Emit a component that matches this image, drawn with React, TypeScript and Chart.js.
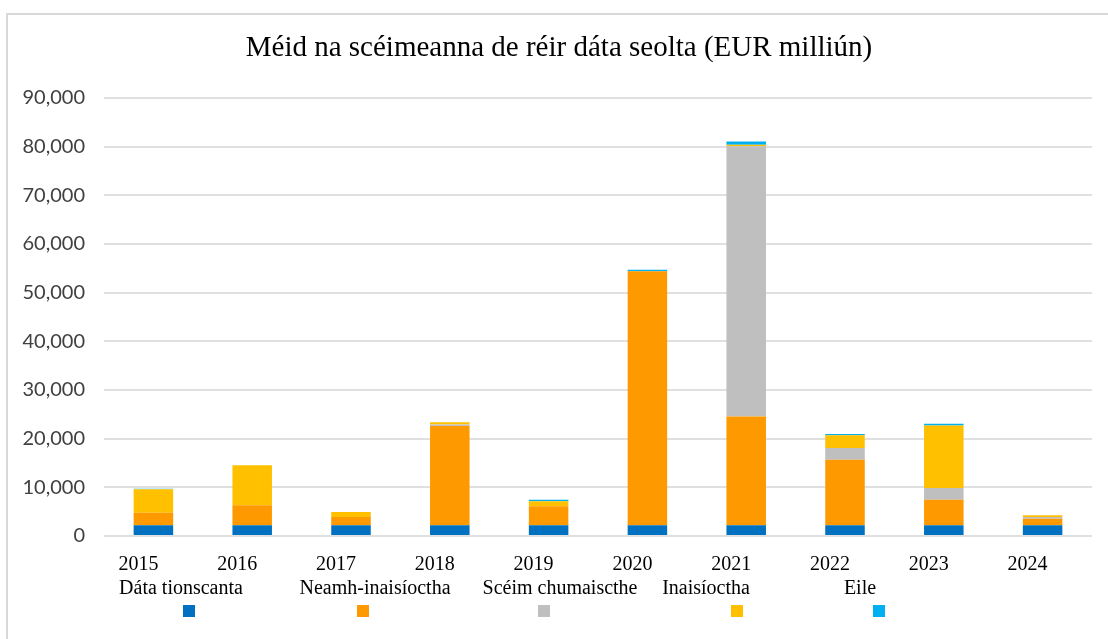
import React, { useEffect, useRef } from "react";
import { Chart, registerables } from "chart.js";

Chart.register(...registerables);

// ---- data ----
const TITLE = "Méid na scéimeanna de réir dáta seolta (EUR milliún)";
const YEARS = ["2015", "2016", "2017", "2018", "2019", "2020", "2021", "2022", "2023", "2024"];
const SERIES_NAMES = ["Dáta tionscanta", "Neamh-inaisíoctha", "Scéim chumaiscthe", "Inaisíoctha", "Eile"];
const DATA_TIONSCANTA = [2200, 2200, 2200, 2200, 2200, 2200, 2200, 2200, 2200, 2200];
const NEAMH_INAISIOCTHA = [2580, 4100, 1700, 20390, 3900, 52200, 22380, 13490, 5270, 1370];
const SCEIM_CHUMAISCTHE = [0, 0, 0, 300, 0, 0, 55500, 2380, 2390, 330];
const INAISIOCTHA = [4810, 8220, 1030, 500, 1020, 0, 300, 2610, 12870, 350];
const EILE = [100, 0, 0, 0, 350, 300, 700, 270, 350, 0];
const Y_MAX = 90000;
const Y_STEP = 10000;

// ---- styles / layout ----
const COLORS = ["#0070C0", "#FF9900", "#BFBFBF", "#FFC000", "#00B0F0"];
const LEGEND_TEXT_X = [181, 375, 560, 706, 860];
const LEGEND_MARK_X = [189, 363, 544, 737, 879];
const SERIF = "'Liberation Serif', 'Times New Roman', serif";
const SANS = "Lato, 'Liberation Sans', sans-serif";

const SERIES = [DATA_TIONSCANTA, NEAMH_INAISIOCTHA, SCEIM_CHUMAISCTHE, INAISIOCTHA, EILE];

const decorPlugin = {
  id: "decor",
  beforeDraw(chart: any) {
    const { ctx, width, height } = chart;
    ctx.save();
    ctx.fillStyle = "#ffffff";
    ctx.fillRect(0, 0, width, height);
    ctx.strokeStyle = "#d9d9d9";
    ctx.lineWidth = 2;
    ctx.beginPath();
    ctx.moveTo(7, height + 2);
    ctx.lineTo(7, 14);
    ctx.lineTo(width + 2, 14);
    ctx.stroke();
    ctx.restore();
  },
  afterDraw(chart: any) {
    const { ctx } = chart;
    ctx.save();
    ctx.fillStyle = "#000000";
    ctx.font = `29px ${SERIF}`;
    ctx.textAlign = "center";
    ctx.textBaseline = "alphabetic";
    ctx.fillText(TITLE, 559, 56);
    ctx.font = `20px ${SERIF}`;
    chart.data.datasets.forEach((ds: any, i: number) => {
      ctx.fillStyle = "#000000";
      ctx.fillText(ds.label, LEGEND_TEXT_X[i], 594);
      ctx.fillStyle = ds.backgroundColor;
      ctx.fillRect(LEGEND_MARK_X[i] - 6, 605, 12, 12);
    });
    ctx.restore();
  },
};

export default function App() {
  const ref = useRef<HTMLCanvasElement | null>(null);
  useEffect(() => {
    if (!ref.current) return;
    const chart = new Chart(ref.current, {
      type: "bar",
      data: {
        labels: YEARS,
        datasets: SERIES.map((d, i) => ({
          label: SERIES_NAMES[i],
          data: d,
          backgroundColor: COLORS[i],
          borderWidth: 0,
          categoryPercentage: 1,
          barPercentage: 0.4,
        })),
      },
      options: {
        responsive: false,
        animation: false,
        layout: { padding: { top: 98, left: 0, right: 16, bottom: 63 } },
        plugins: {
          legend: { display: false },
          title: { display: false },
          tooltip: { enabled: false },
        },
        scales: {
          x: {
            stacked: true,
            grid: { display: false, drawTicks: false },
            border: { display: false },
            ticks: {
              padding: 17,
              labelOffset: -15,
              color: "#000000",
              font: { family: SERIF, size: 20 },
              maxRotation: 0,
            },
            afterFit: (s: any) => {
              s.height = 40;
            },
          },
          y: {
            stacked: true,
            min: 0,
            max: Y_MAX,
            grid: { color: "#e0e0e0", lineWidth: 2, drawTicks: false },
            border: { display: false },
            ticks: {
              stepSize: Y_STEP,
              padding: 19,
              color: "#404040",
              font: { family: SANS, size: 20 },
              callback: (v: any) => Number(v).toLocaleString("en-US"),
            },
            afterFit: (s: any) => {
              s.width = 104;
            },
          },
        },
      },
      plugins: [decorPlugin],
    });
    return () => chart.destroy();
  }, []);
  return (
    <div style={{ position: "fixed", left: 0, top: 0, width: 1108, height: 639, background: "#fff" }}>
      <canvas ref={ref} width={1108} height={639} style={{ display: "block" }} />
    </div>
  );
}
